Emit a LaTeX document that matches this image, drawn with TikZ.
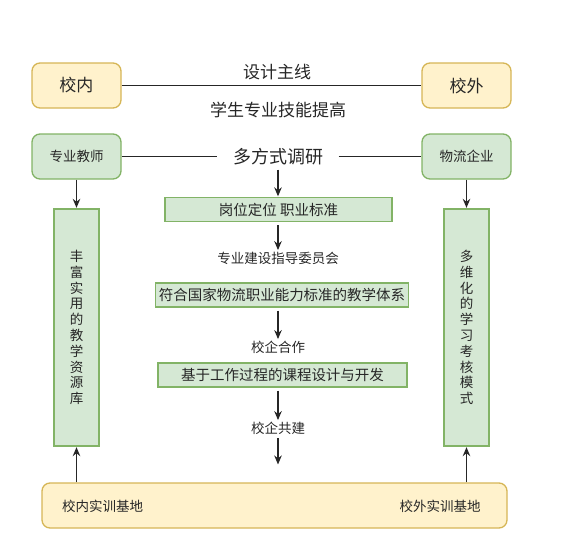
\documentclass[tikz,border=0pt]{standalone}
\usepackage{fontspec}
\setmainfont{Noto Sans CJK SC}
\usetikzlibrary{positioning,arrows.meta}
\definecolor{campusfill}{HTML}{FFF2CC}
\definecolor{campusline}{HTML}{D6B656}
\definecolor{partyfill}{HTML}{D5E8D4}
\definecolor{partyline}{HTML}{82B366}
\tikzset{
	chart/.style={>={Stealth[length=9pt,width=7.5pt]},shorten >=0.5pt,x=1pt,y=-1pt,
		line width=1.3pt,color=black!85},
	campus/.style={rectangle,rounded corners=8pt,draw=campusline,fill=campusfill,
		minimum width=89pt,minimum height=45pt,font=\fontsize{17}{20}\selectfont},
	party/.style={rectangle,rounded corners=8pt,draw=partyline,fill=partyfill,
		minimum width=89pt,minimum height=45pt,font=\fontsize{13.5}{16}\selectfont},
	stage/.style={rectangle,draw=partyline,fill=partyfill,minimum height=24pt,
		font=\fontsize{14.5}{17}\selectfont},
	pillar/.style={rectangle,draw=partyline,fill=partyfill,minimum width=45pt,
		minimum height=237pt,align=center,font=\fontsize{13.5}{15.8}\selectfont},
	remark/.style={inner sep=0.5pt,font=\fontsize{13.5}{16}\selectfont},
	big/.style={font=\fontsize{17}{20}\selectfont},
	flow/.style={->,shorten <=3pt}
}

\begin{document}
\begin{tikzpicture}[chart]
		\useasboundingbox (0,0) rectangle (563,557);
		
		\node[campus] (inside) at (76.5,85.5) {校内};
		\node[campus] (outside) at (466.5,85.5) {校外};
		\node[remark,big] (mainline) at (277,72) {设计主线};
		\node[remark,big] (goal) at (278,110) {学生专业技能提高};
		
		\node[party] (teacher) at (76.5,156.5) {专业教师};
		\node[party] (firm) at (466.5,156.5) {物流企业};
		\node[remark,font=\fontsize{18}{21}\selectfont,inner xsep=15pt,inner ysep=1pt] (survey) at (278,156.5) {多方式调研};
		
		\node[stage,minimum width=227pt] (post) at (278.5,209.5) {岗位定位 职业标准};
		\node[remark] (committee) at (278,258) {专业建设指导委员会};
		\node[stage,minimum width=250pt] (system) at (282,295) {符合国家物流职业能力标准的教学体系};
		\node[remark] (cooperate) at (278,347) {校企合作};
		\node[stage,minimum width=249pt] (course) at (282.5,375) {基于工作过程的课程设计与开发};
		\node[remark] (cobuild) at (278,428) {校企共建};
		\coordinate (cobuildend) at (278,465);
		
		\node[pillar] (library) at (76.5,327.5) {丰\\富\\实\\用\\的\\教\\学\\资\\源\\库};
		\node[pillar] (assess) at (466.5,327.5) {多\\维\\化\\的\\学\\习\\考\\核\\模\\式};
		
		\node[campus,minimum width=465pt] (base) at (274.5,505.5) {};
		\node[remark] (inbase) at (102.5,506) {校内实训基地};
		\node[remark] (outbase) at (440,506) {校外实训基地};
		
		% connectors
		\draw (inside) -- (outside);
		\draw (teacher) -- (survey);
		\draw (survey) -- (firm);
		\draw[->] (teacher) -- (library);
		\draw[->] (firm) -- (assess);
		\draw[->] (base.north -| library) -- (library);
		\draw[->] (base.north -| assess) -- (assess);
		
		\draw[flow] (survey) -- (survey |- post.north);
		\draw[flow] (post.south -| committee) -- (committee);
		\draw[flow] (system.south -| cooperate) -- (cooperate);
		\draw[flow] (course.south -| cobuild) -- (cobuild);
		\draw[flow] (cobuild) -- (cobuildend);
		\end{tikzpicture}
\end{document}
